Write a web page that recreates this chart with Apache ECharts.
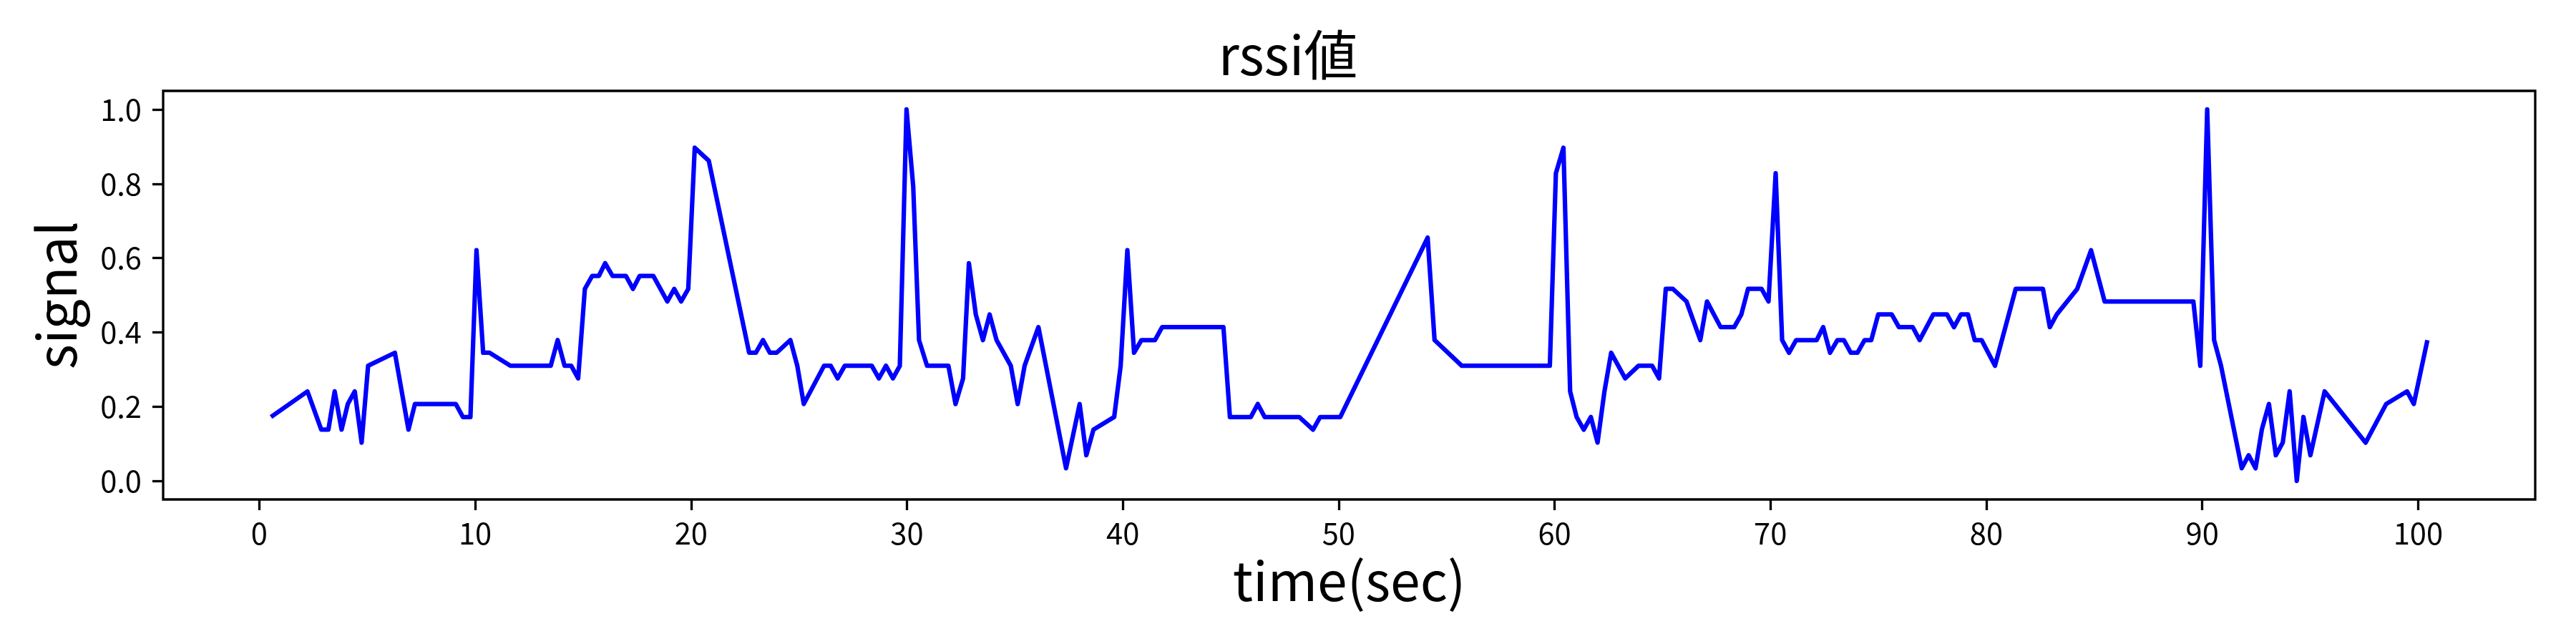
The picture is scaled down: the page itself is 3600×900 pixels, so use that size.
<!DOCTYPE html>
<html>
<head>
<meta charset="utf-8">
<script src="https://cdn.jsdelivr.net/npm/echarts@6/dist/echarts.min.js"></script>
<style>
html,body{margin:0;padding:0;background:#fff;}
#chart{width:3600px;height:900px;}
</style>
</head>
<body>
<div id="chart"></div>
<script>
const titleText = "rssi値";
const xAxisName = "time(sec)";
const yAxisName = "signal";
const xTickValues = [0, 10, 20, 30, 40, 50, 60, 70, 80, 90, 100];
const yTickValues = [0.0, 0.2, 0.4, 0.6, 0.8, 1.0];

const timeSec = [
  0.54, 2.23, 2.87, 3.20, 3.49, 3.81, 4.10, 4.42, 4.74, 5.04,
  6.28, 6.91, 7.21, 9.10, 9.43, 9.78, 10.06, 10.37, 10.66, 11.63,
  13.50, 13.82, 14.14, 14.45, 14.77, 15.08, 15.42, 15.73, 16.02, 16.36,
  16.98, 17.31, 17.62, 18.25, 18.90, 19.22, 19.54, 19.87, 20.17, 20.82,
  22.69, 23.00, 23.33, 23.65, 23.96, 24.60, 24.92, 25.22, 26.16, 26.47,
  26.79, 27.12, 28.37, 28.70, 29.03, 29.35, 29.67, 29.98, 30.29, 30.56,
  30.93, 31.92, 32.25, 32.60, 32.87, 33.19, 33.52, 33.83, 34.15, 34.81,
  35.13, 35.45, 36.09, 37.37, 38.00, 38.31, 38.64, 39.60, 39.90, 40.21,
  40.52, 40.86, 41.49, 41.82, 44.66, 44.96, 45.93, 46.25, 46.57, 48.17,
  48.81, 49.14, 50.07, 54.12, 54.44, 55.70, 59.78, 60.06, 60.41, 60.72,
  61.02, 61.35, 61.68, 61.99, 62.31, 62.62, 63.27, 63.89, 64.52, 64.84,
  65.15, 65.48, 66.11, 66.75, 67.06, 67.69, 68.32, 68.65, 68.96, 69.59,
  69.91, 70.24, 70.54, 70.86, 71.19, 72.14, 72.44, 72.76, 73.10, 73.40,
  73.72, 74.03, 74.36, 74.67, 74.99, 75.62, 75.95, 76.59, 76.91, 77.54,
  78.18, 78.50, 78.82, 79.15, 79.46, 79.78, 80.40, 81.36, 82.62, 82.94,
  83.26, 84.21, 84.85, 85.48, 89.59, 89.91, 90.23, 90.55, 90.87, 91.83,
  92.15, 92.47, 92.76, 93.09, 93.41, 93.73, 94.05, 94.38, 94.69, 95.01,
  95.67, 97.57, 98.52, 99.49, 99.80, 100.43
];

const signal = [
  0.172, 0.241, 0.138, 0.138, 0.241, 0.138, 0.207, 0.241, 0.103, 0.310,
  0.345, 0.138, 0.207, 0.207, 0.172, 0.172, 0.621, 0.345, 0.345, 0.310,
  0.310, 0.379, 0.310, 0.310, 0.276, 0.517, 0.552, 0.552, 0.586, 0.552,
  0.552, 0.517, 0.552, 0.552, 0.483, 0.517, 0.483, 0.517, 0.897, 0.862,
  0.345, 0.345, 0.379, 0.345, 0.345, 0.379, 0.310, 0.207, 0.310, 0.310,
  0.276, 0.310, 0.310, 0.276, 0.310, 0.276, 0.310, 1.000, 0.793, 0.379,
  0.310, 0.310, 0.207, 0.276, 0.586, 0.448, 0.379, 0.448, 0.379, 0.310,
  0.207, 0.310, 0.414, 0.034, 0.207, 0.069, 0.138, 0.172, 0.310, 0.621,
  0.345, 0.379, 0.379, 0.414, 0.414, 0.172, 0.172, 0.207, 0.172, 0.172,
  0.138, 0.172, 0.172, 0.655, 0.379, 0.310, 0.310, 0.828, 0.897, 0.241,
  0.172, 0.138, 0.172, 0.103, 0.241, 0.345, 0.276, 0.310, 0.310, 0.276,
  0.517, 0.517, 0.483, 0.379, 0.483, 0.414, 0.414, 0.448, 0.517, 0.517,
  0.483, 0.828, 0.379, 0.345, 0.379, 0.379, 0.414, 0.345, 0.379, 0.379,
  0.345, 0.345, 0.379, 0.379, 0.448, 0.448, 0.414, 0.414, 0.379, 0.448,
  0.448, 0.414, 0.448, 0.448, 0.379, 0.379, 0.310, 0.517, 0.517, 0.414,
  0.448, 0.517, 0.621, 0.483, 0.483, 0.310, 1.000, 0.379, 0.310, 0.034,
  0.069, 0.034, 0.138, 0.207, 0.069, 0.103, 0.241, 0.000, 0.172, 0.069,
  0.241, 0.103, 0.207, 0.241, 0.207, 0.379
];

const FONT = '"Noto Sans CJK JP", "Noto Sans", sans-serif';

// matplotlib-style 5% margins around the data range
const xLo = Math.min(...timeSec), xHi = Math.max(...timeSec);
const yLo = Math.min(...signal), yHi = Math.max(...signal);
const xPad = (xHi - xLo) * 0.05, yPad = (yHi - yLo) * 0.05;

const seriesData = timeSec.map((t, i) => [t, signal[i]]);

const chart = echarts.init(document.getElementById('chart'), null, {renderer: 'canvas'});
chart.setOption({
  backgroundColor: '#ffffff',
  animation: false,
  title: {
    text: titleText,
    left: 'center',
    top: 34,
    textStyle: {fontFamily: FONT, fontSize: 75, fontWeight: 'normal', color: '#000'}
  },
  grid: {
    left: 228, right: 57, top: 127, bottom: 202,
    show: true, borderColor: '#000', borderWidth: 3.3, backgroundColor: 'transparent'
  },
  xAxis: {
    type: 'value',
    position: 'bottom',
    min: xLo - xPad,
    max: xHi + xPad,
    name: xAxisName,
    nameLocation: 'middle',
    nameGap: 76,
    nameTextStyle: {fontFamily: FONT, fontSize: 75, color: '#000'},
    axisLine: {show: false, onZero: false},
    axisTick: {show: true, inside: false, length: 15, customValues: xTickValues,
      lineStyle: {color: '#000', width: 3.3}},
    axisLabel: {show: true, margin: 26, customValues: xTickValues,
      fontFamily: FONT, fontSize: 41.7, color: '#000',
      formatter: v => String(v)},
    splitLine: {show: false}
  },
  yAxis: {
    type: 'value',
    position: 'left',
    min: yLo - yPad,
    max: yHi + yPad,
    name: yAxisName,
    nameLocation: 'middle',
    nameGap: 112,
    nameRotate: 90,
    nameTextStyle: {fontFamily: FONT, fontSize: 75, color: '#000'},
    axisLine: {show: false, onZero: false},
    axisTick: {show: true, inside: false, length: 15, customValues: yTickValues,
      lineStyle: {color: '#000', width: 3.3}},
    axisLabel: {show: true, margin: 30, customValues: yTickValues,
      fontFamily: FONT, fontSize: 41.7, color: '#000',
      formatter: v => v.toFixed(1)},
    splitLine: {show: false}
  },
  series: [{
    type: 'line',
    data: seriesData,
    showSymbol: false,
    symbol: 'none',
    lineStyle: {color: '#0000ff', width: 6.25, join: 'round', cap: 'butt'},
    itemStyle: {color: '#0000ff'}
  }]
});
</script>
</body>
</html>
